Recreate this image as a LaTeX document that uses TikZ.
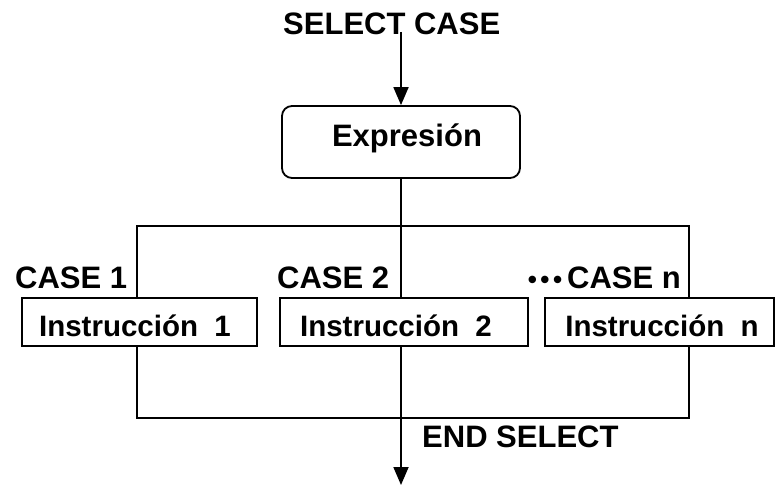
\documentclass[tikz,border=0pt]{standalone}
\usepackage{fontspec}
\setmainfont{Liberation Sans}
\usetikzlibrary{arrows.meta}
\begin{document}
\begin{tikzpicture}[x=1pt,y=-1pt,
  lbl/.style={font=\bfseries\fontsize{31}{33}\selectfont, inner sep=0pt},
  ilbl/.style={font=\bfseries\fontsize{29.5}{32}\selectfont, inner sep=0pt},
  box/.style={draw, line width=1.8pt, inner sep=0pt},
  wire/.style={line width=1.8pt},
  arr/.style={wire, -{Triangle[length=18pt,width=15pt]}}]
\useasboundingbox (0,0) rectangle (775,486);
% labels
\node[lbl, anchor=base west] (sel) at (283,35) {SELECT CASE};
\node[lbl, anchor=base west] (c1) at (15,288) {CASE 1};
\node[lbl, anchor=base west] (c2) at (277,288) {CASE 2};
\node[lbl, anchor=base east] (cn) at (681,288) {{\fontsize{26}{28}\selectfont•\kern3.5pt•\kern3.5pt•}\kern5pt CASE n};
\node[lbl, anchor=base west] (endsel) at (422,447) {END SELECT};
% boxes
\node[box, rounded corners=10pt, minimum width=238pt, minimum height=72pt] (expr) at (401,142) {};
\node[lbl, anchor=base] (exprt) at (407,147) {Expresión};
\node[box, minimum width=235pt, minimum height=48pt] (i1) at (139.5,322) {};
\node[box, minimum width=248pt, minimum height=48pt] (i2) at (404,322) {};
\node[box, minimum width=229pt, minimum height=48pt] (in) at (659.5,322) {};
\node[ilbl, anchor=base] (i1t) at (135,336) {Instrucción\ \ 1};
\node[ilbl, anchor=base] (i2t) at (396,336) {Instrucción\ \ 2};
\node[ilbl, anchor=base] (int) at (662,336) {Instrucción\ \ n};
% coordinates
\coordinate (top) at (401,32);
\coordinate (l1) at (137,226);
\coordinate (r1) at (689,226);
\coordinate (r2) at (689,418);
\coordinate (bot) at (401,485);
% connectors
\draw[arr] (top) -- (expr.north);
\draw[wire] (expr.south) -- (expr.south |- i2.north);
\draw[wire] (i1.north -| l1) |- (r1) -- (in.north -| r1);
\draw[wire] (i1.south -| l1) |- (r2) -- (in.south -| r2);
\draw[arr] (i2.south -| expr.south) -- (bot);
\end{tikzpicture}
\end{document}
